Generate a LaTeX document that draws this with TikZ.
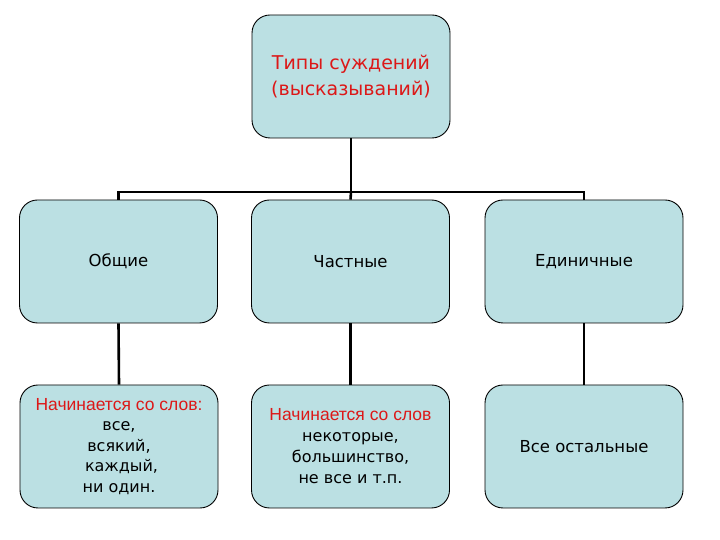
\documentclass[tikz,border=0pt]{standalone}
\usepackage{fontspec}
\setmainfont{Liberation Sans}
\newfontfamily\comicf{DejaVu Sans}
\definecolor{boxfill}{RGB}{187,224,227}
\definecolor{redtext}{RGB}{220,24,24}
\begin{document}
\begin{tikzpicture}[x=1pt,y=1pt,
  box/.style={draw=black, line width=0.9pt, fill=boxfill, rounded corners=18pt,
    minimum width=198pt, minimum height=123pt, inner sep=0pt, align=center},
  link/.style={draw=black, line width=2.6pt}]
\useasboundingbox (0,0) rectangle (720,540);
\node[box, font=\comicf\fontsize{19}{26}\selectfont, text=redtext] (top) at (351,463.5) {Типы суждений\\(высказываний)};
\node[box, font=\comicf\fontsize{16.5}{18}\selectfont] (a) at (118.5,278.5) {Общие};
\node[box, font=\comicf\fontsize{16.5}{18}\selectfont] (b) at (350.5,278.5) {Частные};
\node[box, font=\comicf\fontsize{16.5}{18}\selectfont] (c) at (584,278.5) {Единичные};
\node[box, font=\comicf\fontsize{16}{20.5}\selectfont] (a2) at (119,93.5)
  {{\rmfamily\fontsize{17.5}{20.5}\selectfont\color{redtext}Начинается со слов:}\\все,\\всякий,\\\ каждый,\\ни один.};
\node[box, font=\comicf\fontsize{16}{21}\selectfont] (b2) at (350.5,93.5)
  {{\rmfamily\fontsize{17.5}{21}\selectfont\color{redtext}Начинается со слов}\\некоторые,\\большинство,\\не все и т.п.};
\node[box, font=\comicf\fontsize{16.5}{18}\selectfont] (c2) at (584,93.5) {Все остальные};
\coordinate (bar) at (351,348);
\draw[link] (top.south) -- (bar);
\draw[link] (bar) -| (a.north);
\draw[link] (bar) -| (c.north);
\draw[link] (bar) -- (b.north);
\draw[link] (a.south) -- (a2.north);
\draw[link] (b.south) -- (b2.north);
\draw[link] (c.south) -- (c2.north);
\end{tikzpicture}
\end{document}
